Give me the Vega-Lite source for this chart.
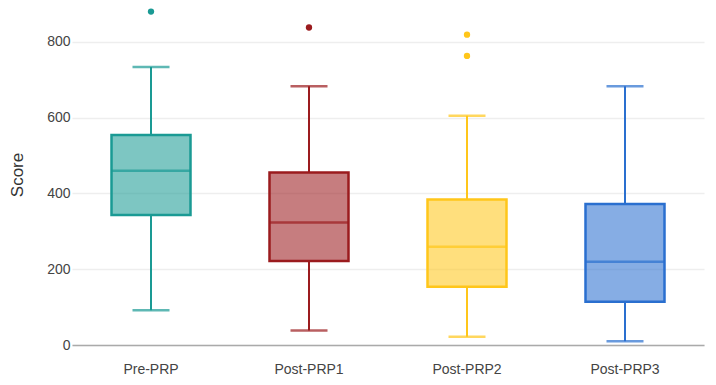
{
  "$schema": "https://vega.github.io/schema/vega-lite/v6.json",
  "width": 632,
  "height": 341,
  "autosize": "none",
  "padding": {"left": 72, "top": 4, "right": 12, "bottom": 40},
  "background": "white",
  "config": {
    "view": {"stroke": null},
    "font": "Liberation Sans",
    "axis": {"labelFont": "Liberation Sans", "titleFont": "Liberation Sans"}
  },
  "datasets": {
    "stats": [
      {"group": "Pre-PRP", "lower": 92, "q1": 343, "median": 460, "q3": 554, "upper": 734},
      {"group": "Post-PRP1", "lower": 38, "q1": 222, "median": 323, "q3": 455, "upper": 683},
      {"group": "Post-PRP2", "lower": 22, "q1": 154, "median": 259, "q3": 384, "upper": 605},
      {"group": "Post-PRP3", "lower": 10, "q1": 114, "median": 220, "q3": 372, "upper": 683}
    ],
    "outliers": [
      {"group": "Pre-PRP", "score": 880},
      {"group": "Post-PRP1", "score": 838},
      {"group": "Post-PRP2", "score": 819},
      {"group": "Post-PRP2", "score": 763}
    ]
  },
  "encoding": {
    "x": {
      "field": "group",
      "type": "nominal",
      "sort": ["Pre-PRP", "Post-PRP1", "Post-PRP2", "Post-PRP3"],
      "scale": {"type": "band", "paddingInner": 0, "paddingOuter": 0},
      "axis": {
        "title": null,
        "labelAngle": 0,
        "ticks": false,
        "labelPadding": 17,
        "labelFontSize": 14,
        "labelColor": "#444444",
        "domainColor": "#aaaaaa",
        "domainWidth": 1.5,
        "grid": false
      }
    },
    "color": {
      "field": "group",
      "type": "nominal",
      "legend": null,
      "scale": {
        "domain": ["Pre-PRP", "Post-PRP1", "Post-PRP2", "Post-PRP3"],
        "range": ["#1a9a94", "#9b1b1e", "#ffc61a", "#2a6fcf"]
      }
    }
  },
  "layer": [
    {
      "data": {"name": "stats"},
      "mark": {"type": "rule", "strokeWidth": 2},
      "encoding": {
        "y": {
          "field": "lower",
          "type": "quantitative",
          "scale": {"domain": [0, 900], "nice": false},
          "axis": {
            "title": "Score",
            "titleFontSize": 17,
            "titleFontWeight": "normal",
            "titleColor": "#333333",
            "titlePadding": 20,
            "values": [0, 200, 400, 600, 800],
            "ticks": false,
            "domain": false,
            "labelPadding": 2,
            "labelFontSize": 14,
            "labelColor": "#444444",
            "gridColor": "#eeeeee",
            "gridWidth": 1.5
          }
        },
        "y2": {"field": "q1"}
      }
    },
    {
      "data": {"name": "stats"},
      "mark": {"type": "rule", "strokeWidth": 2},
      "encoding": {
        "y": {"field": "q3", "type": "quantitative"},
        "y2": {"field": "upper"}
      }
    },
    {
      "data": {"name": "stats"},
      "mark": {"type": "bar", "size": 79, "fillOpacity": 0.57, "strokeWidth": 2.5},
      "encoding": {
        "y": {"field": "q1", "type": "quantitative"},
        "y2": {"field": "q3"},
        "stroke": {"field": "group", "type": "nominal", "legend": null, "scale": {"domain": ["Pre-PRP", "Post-PRP1", "Post-PRP2", "Post-PRP3"], "range": ["#1a9a94", "#9b1b1e", "#ffc61a", "#2a6fcf"]}}
      }
    },
    {
      "data": {"name": "stats"},
      "mark": {"type": "tick", "size": 79, "thickness": 2.5},
      "encoding": {"y": {"field": "median", "type": "quantitative"}}
    },
    {
      "data": {"name": "stats"},
      "mark": {"type": "tick", "size": 37, "thickness": 2.5},
      "encoding": {"y": {"field": "upper", "type": "quantitative"}}
    },
    {
      "data": {"name": "stats"},
      "mark": {"type": "tick", "size": 37, "thickness": 2.5},
      "encoding": {"y": {"field": "lower", "type": "quantitative"}}
    },
    {
      "data": {"name": "outliers"},
      "mark": {"type": "circle", "size": 40, "opacity": 1},
      "encoding": {"y": {"field": "score", "type": "quantitative"}}
    }
  ]
}
